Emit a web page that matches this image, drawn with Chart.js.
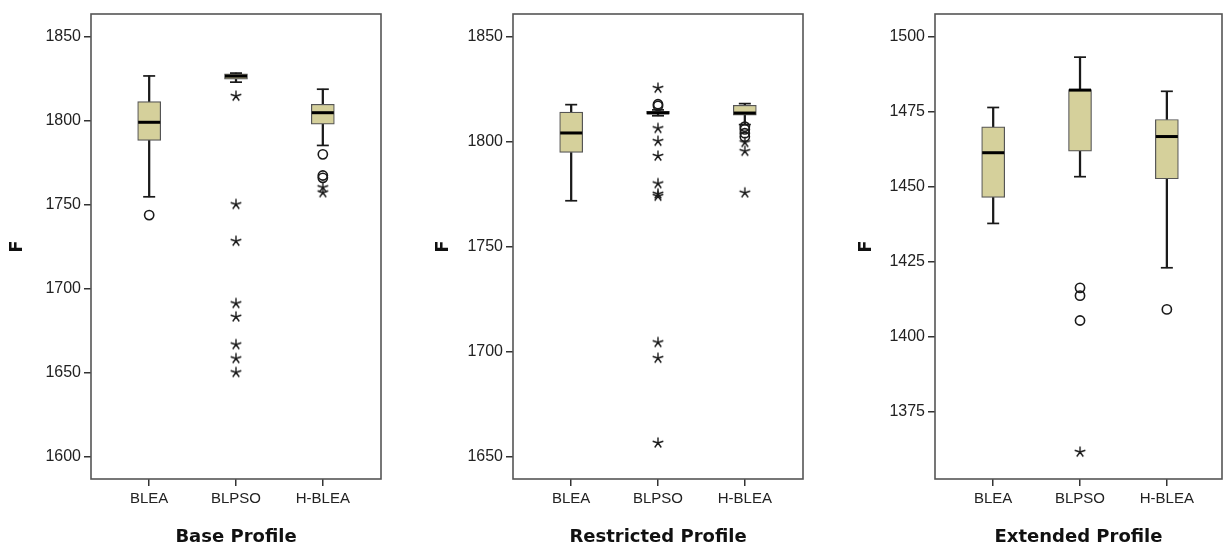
<!DOCTYPE html>
<html>
<head>
<meta charset="utf-8">
<script src="https://cdn.jsdelivr.net/npm/chart.js@4.4.0/dist/chart.umd.min.js"></script>
<style>
  html, body { margin: 0; padding: 0; background: #fff; overflow: hidden; width: 1223px; height: 549px; }
  .panel { position: absolute; top: 0; }
</style>
</head>
<body>
<div class="panel" style="left:0px; width:410px"><canvas id="base" width="410" height="549"></canvas></div>
<div class="panel" style="left:410px; width:425px"><canvas id="restricted" width="425" height="549"></canvas></div>
<div class="panel" style="left:835px; width:420px"><canvas id="extended" width="420" height="549"></canvas></div>
<script>
const categories = ['BLEA', 'BLPSO', 'H-BLEA'];

// Base Profile
const baseLow = [1754.7, 1823.0, 1785.3];
const baseQ1 = [1788.3, 1824.8, 1798.0];
const baseMedian = [1799.1, 1826.6, 1804.8];
const baseQ3 = [1811.4, 1828.0, 1809.8];
const baseHigh = [1826.7, 1828.4, 1818.8];
const baseCircles = [[1743.8], [], [1780.0, 1767.4, 1766.0]];
const baseStars = [[], [1814.7, 1750.2, 1728.3, 1691.2, 1683.2, 1666.7, 1658.4, 1650.1], [1760.3, 1757.2]];
const baseTicks = [1600, 1650, 1700, 1750, 1800, 1850];

// Restricted Profile
const restLow = [1772.0, 1812.5, 1808.3];
const restQ1 = [1795.0, 1813.3, 1812.8];
const restMedian = [1804.3, 1813.9, 1813.8];
const restQ3 = [1814.2, 1814.6, 1817.5];
const restHigh = [1817.8, 1815.3, 1818.3];
const restCircles = [[], [1818.0, 1817.2], [1807.3, 1806.0, 1804.2, 1802.5]];
const restStars = [[], [1825.7, 1806.5, 1800.4, 1793.3, 1780.2, 1775.3, 1774.2, 1704.5, 1697.0, 1656.6], [1799.8, 1795.6, 1775.8]];
const restTicks = [1650, 1700, 1750, 1800, 1850];

// Extended Profile
const extLow = [1437.7, 1453.3, 1422.9];
const extQ1 = [1446.4, 1461.8, 1452.6];
const extMedian = [1461.3, 1482.2, 1466.7];
const extQ3 = [1469.9, 1482.4, 1472.4];
const extHigh = [1476.4, 1493.2, 1481.8];
const extCircles = [[], [1416.2, 1413.6, 1405.3], [1409.0]];
const extStars = [[], [1361.4], []];
const extTicks = [1375, 1400, 1425, 1450, 1475, 1500];

const boxFill = '#D5D09B';
const ink = '#1a1a1a';

// five-armed asterisk like the SPSS extreme marker
function makeStar() {
  const c = document.createElement('canvas');
  c.width = 14; c.height = 14;
  const g = c.getContext('2d');
  g.strokeStyle = ink;
  g.lineWidth = 1.4;
  g.beginPath();
  for (let k = 0; k < 5; k++) {
    const a = -Math.PI / 2 + k * 2 * Math.PI / 5;
    g.moveTo(7, 7);
    g.lineTo(7 + 5.6 * Math.cos(a), 7 + 5.6 * Math.sin(a));
  }
  g.stroke();
  return c;
}
const starImg = makeStar();

const framePlugin = {
  id: 'frame',
  afterDraw(chart) {
    const { ctx, chartArea: a } = chart;
    ctx.save();
    ctx.strokeStyle = '#555';
    ctx.lineWidth = 1.6;
    ctx.strokeRect(a.left, a.top, a.right - a.left, a.bottom - a.top);
    ctx.restore();
  }
};

function flat(list) {
  const pts = [];
  list.forEach((vals, i) => vals.forEach(v => pts.push({ x: i, y: v })));
  return pts;
}

function drawPanel(id, p) {
  const stems = [];
  const caps = [];
  categories.forEach((c, i) => {
    stems.push({ x: i, y: [p.low[i], p.q1[i]] });
    stems.push({ x: i, y: [p.q3[i], p.high[i]] });
    caps.push({ x: i, y: p.low[i] });
    caps.push({ x: i, y: p.high[i] });
  });

  new Chart(document.getElementById(id), {
    type: 'bar',
    data: {
      datasets: [
        {
          type: 'scatter', order: 0,
          data: flat(p.circles),
          pointStyle: 'circle', pointRadius: 4.6,
          backgroundColor: 'rgba(0,0,0,0)', borderColor: ink, borderWidth: 1.6
        },
        {
          type: 'scatter', order: 1,
          data: flat(p.stars),
          pointStyle: starImg
        },
        {
          type: 'scatter', order: 2,
          data: caps,
          pointStyle: 'line', pointRadius: 6,
          borderColor: ink, borderWidth: 1.7
        },
        {
          type: 'scatter', order: 3,
          data: categories.map((c, i) => ({ x: i, y: p.median[i] })),
          pointStyle: 'line', pointRadius: 11,
          borderColor: '#000', borderWidth: 3
        },
        {
          type: 'bar', order: 4, grouped: false,
          data: categories.map((c, i) => ({ x: i, y: [p.q1[i], p.q3[i]] })),
          backgroundColor: boxFill, borderColor: '#555', borderWidth: 1.2,
          borderSkipped: false, barThickness: 23
        },
        {
          type: 'bar', order: 5, grouped: false,
          data: stems,
          backgroundColor: ink, borderWidth: 0, barThickness: 1.6
        }
      ]
    },
    options: {
      responsive: false,
      animation: false,
      events: [],
      layout: { padding: { left: p.padLeft, right: p.padRight, top: 9, bottom: 0 } },
      plugins: { legend: { display: false }, tooltip: { enabled: false } },
      scales: {
        x: {
          type: 'linear',
          offset: false,
          min: -0.67, max: p.xMax,
          afterBuildTicks: s => { s.ticks = categories.map((c, i) => ({ value: i })); },
          afterFit: s => { s.height = 70; s.paddingLeft = 0; s.paddingRight = 0; },
          grid: { offset: false, drawOnChartArea: false, drawTicks: true, tickLength: 7, color: '#333', lineWidth: 1.5 },
          border: { display: false },
          ticks: {
            autoSkip: false, maxRotation: 0, padding: 4, color: '#222',
            font: { family: 'Liberation Sans', size: 15 },
            callback: v => categories[v]
          },
          title: {
            display: true, text: p.title, color: '#111', padding: { top: 4, bottom: 1 },
            font: { family: 'DejaVu Sans', size: 18, weight: 'bold' }
          }
        },
        y: {
          type: 'linear',
          min: p.yMin, max: p.yMax,
          afterBuildTicks: s => { s.ticks = p.ticks.map(v => ({ value: v })); },
          afterFit: s => { s.width = p.yWidth; },
          grid: { drawOnChartArea: false, drawTicks: true, tickLength: 7, color: '#333', lineWidth: 1.5 },
          border: { display: false },
          ticks: {
            padding: 3, color: '#222',
            font: { family: 'Liberation Sans', size: 16 },
            callback: v => String(v)
          },
          title: {
            display: true, text: 'F', color: '#111',
            font: { family: 'DejaVu Sans', size: 18, weight: 'bold' }
          }
        }
      }
    },
    plugins: [framePlugin]
  });
}

drawPanel('base', {
  title: 'Base Profile', low: baseLow, q1: baseQ1, median: baseMedian, q3: baseQ3, high: baseHigh,
  circles: baseCircles, stars: baseStars, ticks: baseTicks,
  yMin: 1586.6, yMax: 1863.6, xMax: 2.67, padLeft: 3, yWidth: 88, padRight: 29
});
drawPanel('restricted', {
  title: 'Restricted Profile', low: restLow, q1: restQ1, median: restMedian, q3: restQ3, high: restHigh,
  circles: restCircles, stars: restStars, ticks: restTicks,
  yMin: 1639.4, yMax: 1861.0, xMax: 2.67, padLeft: 19, yWidth: 84, padRight: 32
});
// frame of the last panel runs up to the right edge of the window
drawPanel('extended', {
  title: 'Extended Profile', low: extLow, q1: extQ1, median: extMedian, q3: extQ3, high: extHigh,
  circles: extCircles, stars: extStars, ticks: extTicks,
  yMin: 1352.4, yMax: 1507.6, xMax: 2.635, padLeft: 17, yWidth: 83, padRight: 33
});
</script>
</body>
</html>
